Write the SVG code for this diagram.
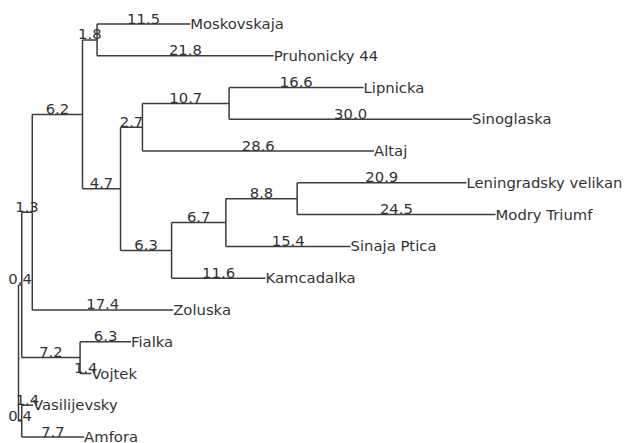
<svg xmlns="http://www.w3.org/2000/svg" width="625" height="443" viewBox="0 0 625 443">
<style>
.e{fill:none;stroke:#3c3c3c;stroke-width:1.5}
.n{font-family:"DejaVu Sans",sans-serif;font-size:14.8px;fill:#333}
.b{font-family:"DejaVu Sans",sans-serif;font-size:14.8px;fill:#333;text-anchor:middle}
</style>
<rect width="625" height="443" fill="#fff"/>
<g id="connectors" class="e">
<path d="M18.5 284.9V421.1"/>
<path d="M18.5 284.9H21.74M21.74 212.2V357.6"/>
<path d="M18.5 421.1H21.74M21.74 405.2V437"/>
<path d="M21.74 212.2H32.27M32.27 114.4V309.9"/>
<path d="M32.27 114.4H82.49M82.49 39.9V188.8"/>
<path d="M82.49 39.9H97.07M97.07 24V55.8"/>
<path d="M97.07 24H190.22"/>
<path d="M97.07 55.8H273.65"/>
<path d="M82.49 188.8H120.56M120.56 127.3V250.4"/>
<path d="M120.56 127.3H142.43M142.43 103.4V151.1"/>
<path d="M142.43 103.4H229.1M229.1 87.5V119.3"/>
<path d="M229.1 87.5H363.56"/>
<path d="M229.1 119.3H472.1"/>
<path d="M142.43 151.1H374.09"/>
<path d="M120.56 250.4H171.59M171.59 222.6V278.2"/>
<path d="M171.59 222.6H225.86M225.86 198.7V246.4"/>
<path d="M225.86 198.7H297.14M297.14 182.8V214.6"/>
<path d="M297.14 182.8H466.43"/>
<path d="M297.14 214.6H495.59"/>
<path d="M225.86 246.4H350.6"/>
<path d="M171.59 278.2H265.55"/>
<path d="M32.27 309.9H173.21"/>
<path d="M21.74 357.6H80.06M80.06 341.7V373.5"/>
<path d="M80.06 341.7H131.09"/>
<path d="M80.06 373.5H91.4"/>
<path d="M21.74 405.2H33.08"/>
<path d="M21.74 437H84.11"/>
</g>
<g id="node-A"><text class="b" x="20.1" y="284.4">0.4</text></g>
<g id="node-B"><text class="b" x="20.1" y="420.6">0.4</text></g>
<g id="node-C"><text class="b" x="27" y="211.7">1.3</text></g>
<g id="node-E"><text class="b" x="57.4" y="113.9">6.2</text></g>
<g id="node-F"><text class="b" x="89.8" y="39.4">1.8</text></g>
<g id="node-G"><text class="b" x="101.5" y="188.3">4.7</text></g>
<g id="node-H"><text class="b" x="131.5" y="126.8">2.7</text></g>
<g id="node-J"><text class="b" x="185.8" y="102.9">10.7</text></g>
<g id="node-I"><text class="b" x="146.1" y="249.9">6.3</text></g>
<g id="node-K"><text class="b" x="198.7" y="222.1">6.7</text></g>
<g id="node-L"><text class="b" x="261.5" y="198.2">8.8</text></g>
<g id="node-D"><text class="b" x="50.9" y="357.1">7.2</text></g>
<g id="leaf-moskovskaja"><text class="b" x="143.6" y="23.5">11.5</text><text class="n" x="190.22" y="29">Moskovskaja</text></g>
<g id="leaf-pruhonicky"><text class="b" x="185.4" y="55.3">21.8</text><text class="n" x="273.65" y="60.8">Pruhonicky 44</text></g>
<g id="leaf-lipnicka"><text class="b" x="296.3" y="87">16.6</text><text class="n" x="363.56" y="92.5">Lipnicka</text></g>
<g id="leaf-sinoglaska"><text class="b" x="350.6" y="118.8">30.0</text><text class="n" x="472.1" y="124.3">Sinoglaska</text></g>
<g id="leaf-altaj"><text class="b" x="258.3" y="150.6">28.6</text><text class="n" x="374.09" y="156.1">Altaj</text></g>
<g id="leaf-leningradsky"><text class="b" x="381.8" y="182.3">20.9</text><text class="n" x="466.43" y="187.8">Leningradsky velikan</text></g>
<g id="leaf-modry"><text class="b" x="396.4" y="214.1">24.5</text><text class="n" x="495.59" y="219.6">Modry Triumf</text></g>
<g id="leaf-sinaja"><text class="b" x="288.2" y="245.9">15.4</text><text class="n" x="350.6" y="251.4">Sinaja Ptica</text></g>
<g id="leaf-kamcadalka"><text class="b" x="218.6" y="277.7">11.6</text><text class="n" x="265.55" y="283.2">Kamcadalka</text></g>
<g id="leaf-zoluska"><text class="b" x="102.7" y="309.4">17.4</text><text class="n" x="173.21" y="314.9">Zoluska</text></g>
<g id="leaf-fialka"><text class="b" x="105.6" y="341.2">6.3</text><text class="n" x="131.09" y="346.7">Fialka</text></g>
<g id="leaf-vojtek"><text class="b" x="85.7" y="373">1.4</text><text class="n" x="91.4" y="378.5">Vojtek</text></g>
<g id="leaf-vasilijevsky"><text class="b" x="27.4" y="404.7">1.4</text><text class="n" x="33.08" y="410.2">Vasilijevsky</text></g>
<g id="leaf-amfora"><text class="b" x="52.9" y="436.5">7.7</text><text class="n" x="84.11" y="441.6">Amfora</text></g>
</svg>
